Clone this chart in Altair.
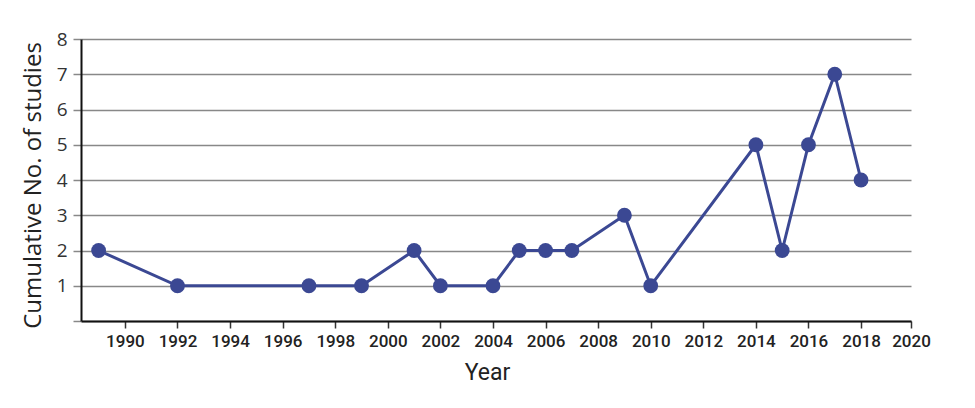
import altair as alt
import pandas as pd

years = [1989, 1992, 1997, 1999, 2001, 2002, 2004, 2005, 2006, 2007, 2009, 2010, 2014, 2015, 2016, 2017, 2018]
studies = [2, 1, 1, 1, 2, 1, 1, 2, 2, 2, 3, 1, 5, 2, 5, 7, 4]
x_ticks = list(range(1990, 2021, 2))
y_ticks = list(range(0, 9))

df = pd.DataFrame({"Year": years, "Studies": studies})
color = "#3b4893"

x = alt.X("Year:Q", scale=alt.Scale(domain=[1988.33, 2019.9], nice=False, zero=False, clamp=True),
          axis=alt.Axis(values=x_ticks, format="d", title="Year", grid=False,
                        domainColor="#111", domainWidth=2, tickColor="#333", tickSize=7, tickWidth=1.5,
                        labelFont="Roboto", labelFontSize=17, labelFontWeight=500, labelColor="#222",
                        labelPadding=5, labelOverlap=False, labelFlush=False,
                        titleFont="Roboto", titleFontSize=23, titleFontWeight="normal",
                        titleColor="#222", titlePadding=12, titleX=406))
y = alt.Y("Studies:Q", scale=alt.Scale(domain=[0, 8], nice=False),
          axis=alt.Axis(values=y_ticks, title="Cumulative No. of studies", grid=True,
                        gridColor="#888", gridWidth=1.5, domainColor="#111", domainWidth=2,
                        tickColor="#888", tickSize=8, tickWidth=1.5,
                        labelFont="Open Sans", labelFontSize=19, labelColor="#333", labelPadding=6,
                        labelExpr="datum.value == 0 ? '' : datum.label",
                        titleFont="Open Sans", titleFontSize=24, titleFontWeight="normal",
                        titleColor="#222", titlePadding=11, titleY=146))

line = alt.Chart(df).mark_line(color=color, strokeWidth=3).encode(x=x, y=y)
pts = alt.Chart(df).mark_circle(color=color, size=220, opacity=1).encode(x=x, y=y)

chart = (line + pts).properties(
    width=830, height=282,
    autosize=alt.AutoSizeParams(type="none"),
    padding={"left": 73, "top": 31, "right": 50, "bottom": 80},
    background="white",
).configure_view(stroke=None)

chart.save("out.html", embed_options={"renderer": "svg", "actions": False})
